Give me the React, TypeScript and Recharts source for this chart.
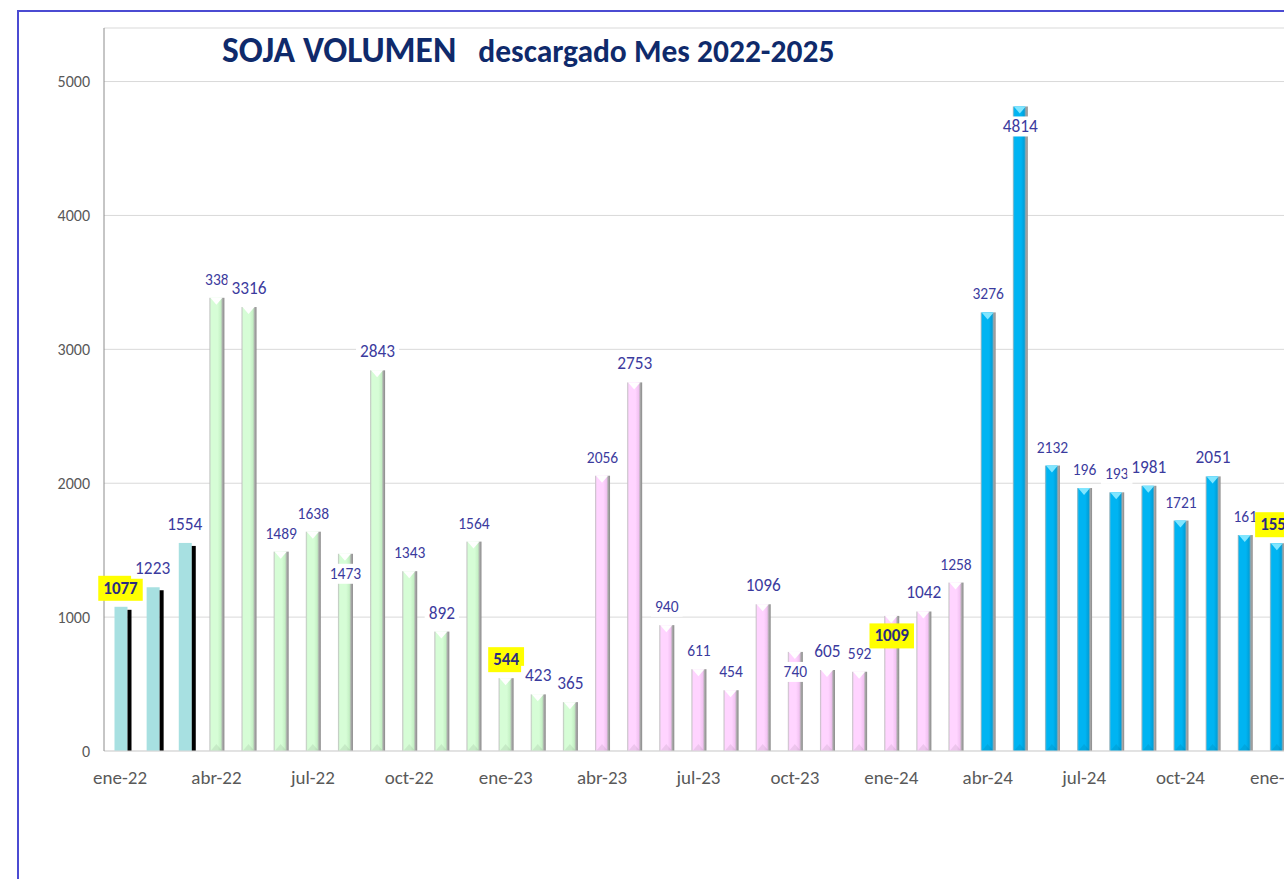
import React from 'react';
import { BarChart, Bar, XAxis, YAxis, CartesianGrid, LabelList } from 'recharts';

// monthly soybean volume unloaded, ene-22 .. ene-25
const months = [
  'ene-22', 'feb-22', 'mar-22', 'abr-22', 'may-22', 'jun-22', 'jul-22', 'ago-22', 'sep-22', 'oct-22', 'nov-22', 'dic-22',
  'ene-23', 'feb-23', 'mar-23', 'abr-23', 'may-23', 'jun-23', 'jul-23', 'ago-23', 'sep-23', 'oct-23', 'nov-23', 'dic-23',
  'ene-24', 'feb-24', 'mar-24', 'abr-24', 'may-24', 'jun-24', 'jul-24', 'ago-24', 'sep-24', 'oct-24', 'nov-24', 'dic-24',
  'ene-25',
];

const volume = [
  1077, 1223, 1554, 3385, 3316, 1489, 1638, 1473, 2843, 1343, 892, 1564,
  544, 423, 365, 2056, 2753, 940, 611, 454, 1096, 740, 605, 592,
  1009, 1042, 1258, 3276, 4814, 2132, 1964, 1932, 1981, 1721, 2051, 1613,
  1552,
];

// text as it shows on the chart (some labels are clipped in the original)
const labelText = [
  '1077', '1223', '1554', '338', '3316', '1489', '1638', '1473', '2843', '1343', '892', '1564',
  '544', '423', '365', '2056', '2753', '940', '611', '454', '1096', '740', '605', '592',
  '1009', '1042', '1258', '3276', '4814', '2132', '196', '193', '1981', '1721', '2051', '161',
  '1552',
];

const campaign = [
  '21/22', '21/22', '21/22',
  '22/23', '22/23', '22/23', '22/23', '22/23', '22/23', '22/23', '22/23', '22/23', '22/23', '22/23', '22/23',
  '23/24', '23/24', '23/24', '23/24', '23/24', '23/24', '23/24', '23/24', '23/24', '23/24', '23/24', '23/24',
  '24/25', '24/25', '24/25', '24/25', '24/25', '24/25', '24/25', '24/25', '24/25', '24/25',
];

const yTicks = [0, 1000, 2000, 3000, 4000, 5000];

const chartData = months.map((m, i) => ({
  month: m,
  volume: volume[i],
  label: labelText[i],
  campaign: campaign[i],
}));

// label styling
const bigLabels = ['feb-22', 'mar-22', 'may-22', 'sep-22', 'nov-22', 'feb-23', 'mar-23', 'may-23', 'sep-23', 'nov-23', 'feb-24', 'may-24', 'sep-24', 'nov-24'];
const insideLabels = ['ago-22', 'oct-23', 'ene-24', 'may-24'];

const FONT = 'Carlito, Lato, sans-serif';

const palette: Record<string, { light: string; mid: string; notch: string }> = {
  '22/23': { light: '#d6fdd6', mid: '#c4f0c4', notch: '#ffffff' },
  '23/24': { light: '#ffd4ff', mid: '#f2c2f2', notch: '#ffffff' },
  '24/25': { light: '#00b4f2', mid: '#00a0da', notch: '#80e6ff' },
};

const SojaBar = (props: any) => {
  const { x, y, width, height, index, payload } = props;
  if (!height || height <= 0) return null;
  if (payload.campaign === '21/22') {
    const cx = x + width / 2;
    return (
      <g>
        <rect x={cx - 6} y={y} width={13} height={height} fill="#a7e0e1" />
        <rect x={cx + 7} y={y + 3} width={4} height={height - 3} fill="#000" />
      </g>
    );
  }
  const p = palette[payload.campaign];
  const id = `soja-grad-${index}`;
  return (
    <g>
      <defs>
        <linearGradient id={id} x1="0" y1="0" x2="1" y2="0">
          <stop offset="0" stopColor="#bdbdbd" />
          <stop offset="0.12" stopColor={p.light} />
          <stop offset="0.55" stopColor={p.light} />
          <stop offset="0.76" stopColor={p.mid} />
          <stop offset="0.88" stopColor="#a8a8a8" />
          <stop offset="1" stopColor="#8a8a8a" />
        </linearGradient>
      </defs>
      <rect x={x} y={y} width={width} height={height} fill={`url(#${id})`} />
      <polygon points={`${x + 1},${y} ${x + width - 2},${y} ${x + width / 2 - 0.5},${y + 7}`} fill={p.notch} />
      <polygon
        points={`${x + 1},${y + height} ${x + width / 2 - 0.5},${y + height - 7} ${x + width - 2},${y + height}`}
        fill="#000"
        opacity={0.07}
      />
    </g>
  );
};

const renderLabel = (props: any) => {
  const vb = props.viewBox || {};
  const x = props.x ?? vb.x;
  const y = props.y ?? vb.y;
  const width = props.width ?? vb.width;
  const index = props.index;
  const m = months[index];
  const text = String(props.value);
  const cx = x + width / 2;
  const cy = insideLabels.includes(m) ? y + 20 : y - 18.5;
  const highlight = m.startsWith('ene');
  const fs = highlight ? 17 : bigLabels.includes(m) ? 17.3 : 15.5;
  const w = text.length * fs * 0.507 + (highlight ? 10 : 8);
  const h = highlight ? 25 : 20;
  return (
    <g key={`lbl-${index}`}>
      <rect x={cx - w / 2} y={cy - h / 2} width={w} height={h} fill={highlight ? '#ffff00' : '#ffffff'} />
      <text
        x={cx}
        y={cy}
        textAnchor="middle"
        dominantBaseline="central"
        fontFamily={FONT}
        fontSize={fs}
        fontWeight={highlight ? 700 : 400}
        fill={highlight ? '#2b2b80' : '#3b3b9e'}
      >
        {text}
      </text>
    </g>
  );
};

export default function App() {
  return (
    <div style={{ position: 'fixed', left: 0, top: 0, width: 1284, height: 879, overflow: 'hidden', background: '#fff' }}>
      <div
        style={{
          position: 'absolute',
          left: 17,
          top: 10,
          width: 1400,
          height: 1000,
          border: '2px solid #4b4bd2',
          boxSizing: 'border-box',
        }}
      />
      <div style={{ position: 'absolute', left: 0, top: 0 }}>
        <BarChart width={1300} height={879} data={chartData} margin={{ top: 28, right: 7, left: 0, bottom: 98 }} barSize={15}>
          <CartesianGrid vertical={false} stroke="#d9d9d9" />
          <XAxis
            dataKey="month"
            interval={2}
            height={30}
            tickLine={false}
            tickMargin={14}
            axisLine={{ stroke: '#d9d9d9' }}
            tick={{ fontSize: 19, fill: '#595959', fontFamily: FONT }}
          />
          <YAxis
            width={104}
            domain={[0, 5400]}
            ticks={yTicks}
            tickLine={false}
            tickMargin={8}
            axisLine={{ stroke: '#8c8c8c' }}
            tick={{ fontSize: 16, fill: '#595959', fontFamily: FONT }}
          />
          <Bar dataKey="volume" shape={SojaBar} isAnimationActive={false}>
            <LabelList dataKey="label" content={renderLabel} />
          </Bar>
        </BarChart>
      </div>
      <div
        style={{
          position: 'absolute',
          left: 222,
          top: 29,
          fontFamily: FONT,
          fontWeight: 700,
          color: '#0f2a6b',
          whiteSpace: 'nowrap',
          lineHeight: '42px',
        }}
      >
        <span style={{ fontSize: 35.5 }}>SOJA VOLUMEN</span>
        <span style={{ fontSize: 31.5, marginLeft: 22 }}>descargado Mes 2022-2025</span>
      </div>
    </div>
  );
}
